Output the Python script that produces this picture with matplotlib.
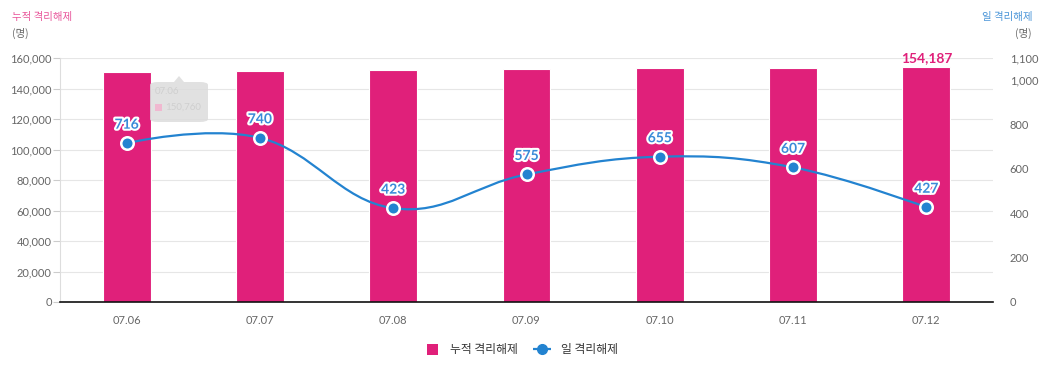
import matplotlib
matplotlib.use("Agg")
import matplotlib.pyplot as plt
import matplotlib.patheffects as pe
from matplotlib.path import Path
from matplotlib.patches import PathPatch, FancyBboxPatch, Polygon, Rectangle
from matplotlib.lines import Line2D
from matplotlib.patches import Patch
from matplotlib.legend_handler import HandlerPatch
import numpy as np

categories = ["07.06", "07.07", "07.08", "07.09", "07.10", "07.11", "07.12"]
cumulative = [150760, 151500, 151923, 152498, 153153, 153760, 154187]
daily = [716, 740, 423, 575, 655, 607, 427]
left_ticks = [0, 20000, 40000, 60000, 80000, 100000, 120000, 140000, 160000]
right_ticks = [0, 200, 400, 600, 800, 1000, 1100]

PINK = "#E0207A"
BLUE = "#2383D0"
GRAY = "#666666"
NUM = ["Lato", "Noto Sans CJK KR", "DejaVu Sans"]
KR = ["Noto Sans CJK KR", "DejaVu Sans"]

fig = plt.figure(figsize=(10.4, 3.65), dpi=100)
W, H = 1040, 365
L, R, T, B = 60, 993, 58, 302
ax = fig.add_axes([L / W, 1 - B / H, (R - L) / W, (B - T) / H])
ax2 = ax.twinx()

x = np.arange(len(categories))
ax.bar(x, cumulative, width=0.36, color=PINK, edgecolor="white", linewidth=0.8, zorder=2)
ax.set_xlim(-0.5, len(categories) - 0.5)
ax.set_ylim(0, 160000)
ax2.set_ylim(0, 1100)

ax.set_yticks(left_ticks)
ax.set_yticklabels([f"{v:,}" for v in left_ticks], fontfamily=NUM, fontsize=8, color=GRAY)
ax.tick_params(axis="y", length=5, width=0.8, color="#cccccc", pad=1)
ax.grid(axis="y", color="#e6e6e6", linewidth=0.8, zorder=0)
ax.set_axisbelow(True)
ax.set_xticks(x)
ax.set_xticklabels(categories, fontfamily=NUM, fontsize=8, color=GRAY)
ax.tick_params(axis="x", length=0, pad=9)

ax2.set_yticks(right_ticks)
ax2.set_yticklabels([f"{v:,}" for v in right_ticks], fontfamily=NUM, fontsize=8, color=GRAY)
ax2.tick_params(axis="y", length=0, pad=12)

for a in (ax, ax2):
    for s in ("top", "right"):
        a.spines[s].set_visible(False)
ax2.spines["left"].set_visible(False)
ax2.spines["bottom"].set_visible(False)
ax.spines["left"].set_color("#dddddd")
ax.spines["left"].set_linewidth(0.8)
ax.spines["bottom"].set_color("#111111")
ax.spines["bottom"].set_linewidth(1.2)
ax.spines["bottom"].set_zorder(5)

# Highcharts-style spline (no extremum clamping)
def spline_path(xs, ys, yscale):
    px = np.array(xs, float)
    py = np.array(ys, float) * yscale
    n = len(px)
    smoothing, denom = 1.5, 2.5
    lc = [(px[i], py[i]) for i in range(n)]
    rc = [(px[i], py[i]) for i in range(n)]
    for i in range(1, n - 1):
        lx = (smoothing * px[i] + px[i - 1]) / denom
        ly = (smoothing * py[i] + py[i - 1]) / denom
        rx = (smoothing * px[i] + px[i + 1]) / denom
        ry = (smoothing * py[i] + py[i + 1]) / denom
        corr = ((ry - ly) * (rx - px[i])) / (rx - lx) + py[i] - ry
        ly += corr
        ry += corr
        lc[i] = (lx, ly)
        rc[i] = (rx, ry)
    verts = [(px[0], py[0] / yscale)]
    codes = [Path.MOVETO]
    for i in range(1, n):
        verts += [(rc[i - 1][0], rc[i - 1][1] / yscale), (lc[i][0], lc[i][1] / yscale), (px[i], py[i] / yscale)]
        codes += [Path.CURVE4] * 3
    return Path(verts, codes)

yscale = (B - T) / 1100 / ((R - L) / len(categories))
ax2.add_patch(PathPatch(spline_path(x, daily, yscale), facecolor="none", edgecolor=BLUE, linewidth=1.6, zorder=3))
ax2.plot(x, daily, linestyle="none", marker="o", markersize=9, markerfacecolor=BLUE,
         markeredgecolor="white", markeredgewidth=1.8, zorder=4)

for xi, v in zip(x, daily):
    ax2.annotate(f"{v}", (xi, v), xytext=(0, 9), textcoords="offset points", ha="center", va="bottom",
                 fontsize=10, fontweight="bold", color="#3a8ad8", fontfamily=NUM, zorder=6,
                 path_effects=[pe.withStroke(linewidth=3, foreground="white")])

ax.annotate(f"{cumulative[-1]:,}", (x[-1], cumulative[-1]), xytext=(0, 2), textcoords="offset points",
            ha="center", va="bottom", fontsize=10, fontweight="bold", color=PINK, fontfamily=NUM, zorder=6)

# faded tooltip
fig.patches.append(FancyBboxPatch((150 / W, 1 - 122 / H), 58 / W, 40 / H,
                                  boxstyle="round,pad=0,rounding_size=0.008",
                                  transform=fig.transFigure, facecolor="#dcdcdc", edgecolor="none",
                                  alpha=0.85, zorder=7))
fig.patches.append(Polygon([(174 / W, 1 - 82 / H), (179 / W, 1 - 76 / H), (184 / W, 1 - 82 / H)],
                           closed=True, transform=fig.transFigure, facecolor="#dcdcdc",
                           edgecolor="none", alpha=0.85, zorder=7))
fig.text(155 / W, 1 - 92 / H, "07.06", fontsize=7, color="#cfcfcf", fontfamily=NUM, va="center", zorder=8)
fig.patches.append(plt.Rectangle((155 / W, 1 - 111 / H), 7 / W, 7 / H, transform=fig.transFigure,
                                 facecolor="#f0b8d0", edgecolor="none", zorder=8))
fig.text(165 / W, 1 - 107 / H, "150,760", fontsize=7, color="#cfcfcf", fontfamily=NUM, va="center", zorder=8)

# axis titles
fig.text(12 / W, 1 - 17 / H, "누적 격리해제", fontsize=7.5, color="#e8559a", fontfamily=KR, va="center")
fig.text(12 / W, 1 - 33 / H, "(명)", fontsize=7.5, color=GRAY, fontfamily=KR, va="center")
fig.text(1032 / W, 1 - 17 / H, "일 격리해제", fontsize=7.5, color="#4a95d8", fontfamily=KR, va="center", ha="right")
fig.text(1032 / W, 1 - 33 / H, "(명)", fontsize=7.5, color=GRAY, fontfamily=KR, va="center", ha="right")


def make_square(legend, orig_handle, xdescent, ydescent, width, height, fontsize):
    s = height * 1.35
    return Rectangle((width - s - 2, (height - s) / 2 - ydescent), s, s)


handles = [Patch(facecolor=PINK, edgecolor="none"),
           Line2D([0], [0], color=BLUE, linestyle="--", dashes=(2, 1.2), linewidth=1.6, marker="o",
                  markersize=7, markerfacecolor=BLUE, markeredgecolor=BLUE)]
fig.legend(handles, ["누적 격리해제", "일 격리해제"], loc="center", bbox_to_anchor=(0.5, 1 - 350 / H),
           ncol=2, frameon=False, prop={"family": KR, "size": 8.5}, handlelength=1.6, handletextpad=0.8,
           columnspacing=1.2, labelcolor="#333333",
           handler_map={Patch: HandlerPatch(patch_func=make_square)})

fig.savefig("out.png", dpi=100)
